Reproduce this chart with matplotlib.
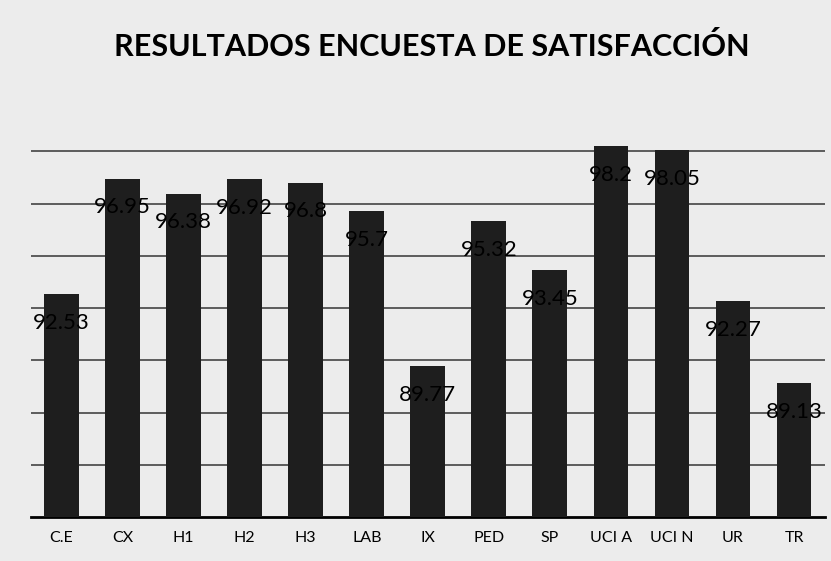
import matplotlib
matplotlib.use('Agg')
import matplotlib.pyplot as plt
import numpy as np

# servicios y porcentaje de satisfaccion
servicios = ['C.E', 'CX', 'H1', 'H2', 'H3', 'LAB', 'IX', 'PED', 'SP', 'UCI A', 'UCI N', 'UR', 'TR']
valores = [92.53, 96.95, 96.38, 96.92, 96.8, 95.7, 89.77, 95.32, 93.45, 98.2, 98.05, 92.27, 89.13]
etiquetas = ['92.53', '96.95', '96.38', '96.92', '96.8', '95.7', '89.77', '95.32', '93.45', '98.2', '98.05', '92.27', '89.13']
titulo = 'RESULTADOS ENCUESTA DE SATISFACCIÓN'

plt.rcParams['font.family'] = ['Lato', 'DejaVu Sans']

fig = plt.figure(figsize=(8.31, 5.61), dpi=100, facecolor='#ececec')
ax = fig.add_axes([31/831, 44/561, 0.955, 418/561])
ax.set_facecolor('#ececec')

x = np.arange(len(servicios))
base = 84
ax.bar(x, np.array(valores) - base, bottom=base, width=0.57, color='#1e1e1e', zorder=3)
for xi, v, t in zip(x, valores, etiquetas):
    ax.text(xi, v - 1.1, t, ha='center', va='center', fontsize=16, color='black', zorder=4)

ax.set_xlim(-0.5, 12.5)
ax.set_ylim(base, 100)
ax.set_yticks(np.arange(86, 99, 2))
ax.yaxis.grid(True, color='#505050', linewidth=1.3, zorder=1)
ax.tick_params(axis='y', left=False, labelleft=False)
ax.set_xticks(x)
ax.set_xticklabels(servicios, fontsize=11.5)
ax.tick_params(axis='x', length=0, pad=10)
for s in ['top', 'right', 'left']:
    ax.spines[s].set_visible(False)
ax.spines['bottom'].set_linewidth(2)
ax.spines['bottom'].set_color('black')

fig.text(0.52, 0.918, titulo, ha='center', va='center', fontsize=22, fontweight='bold')

fig.savefig('out.png', dpi=100, facecolor=fig.get_facecolor())
